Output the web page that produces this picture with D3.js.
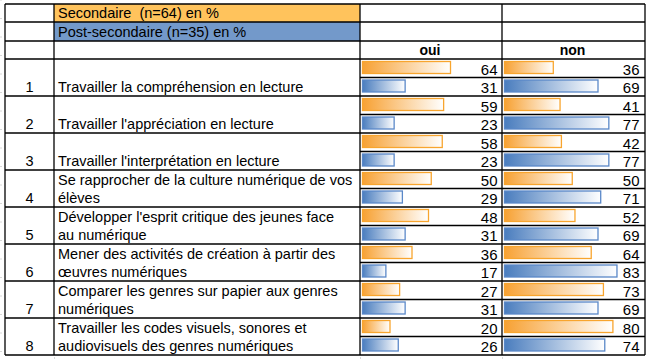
<!DOCTYPE html>
<html><head><meta charset="utf-8">
<script src="https://cdn.jsdelivr.net/npm/d3@7"></script>
<style>
html,body{margin:0;padding:0;background:#fff;}
svg{display:block;font-family:"Liberation Sans",Arial,sans-serif;}
</style></head>
<body>
<svg id="chart" width="650" height="361"></svg>
<script>
// ---- data ----
const itemNumbers = [1,2,3,4,5,6,7,8];
const itemLabels = [
  ["Travailler la compréhension en lecture"],
  ["Travailler l'appréciation en lecture"],
  ["Travailler l'interprétation en lecture"],
  ["Se rapprocher de la culture numérique de vos","élèves"],
  ["Développer l'esprit critique des jeunes face","au numérique"],
  ["Mener des activités de création à partir des","œuvres numériques"],
  ["Comparer les genres sur papier aux genres","numériques"],
  ["Travailler les codes visuels, sonores et","audiovisuels des genres numériques"]
];
const seriesNames = ["Secondaire  (n=64) en %","Post-secondaire (n=35) en %"];
const columnNames = ["oui","non"];
const ouiSecondaire = [64,59,58,50,48,36,27,20];
const ouiPostSecondaire = [31,23,23,29,31,17,31,26];
const nonSecondaire = [36,41,42,50,52,64,73,80];
const nonPostSecondaire = [69,77,77,71,69,83,69,74];

// ---- layout ----
const svg = d3.select("#chart");
const colX = [5, 54, 360, 502, 645];
const headerY = [4, 22, 41, 59];
const rowH = 37;
const rowTop = i => 59 + i * rowH;
const tableBottom = rowTop(8);
const fontSize = 14.5;
const orangeFill = "#FFC35C", blueFill = "#7399CA";
const orange = "#F7A133", blue = "#4A7DBE";
const orangeStroke = "#F8A52E", blueStroke = "#5A88C8";

const defs = svg.append("defs");
function grad(id, c) {
  const g = defs.append("linearGradient").attr("id", id).attr("x1","0%").attr("x2","100%").attr("y1","0").attr("y2","0");
  g.append("stop").attr("offset","0%").attr("stop-color", c);
  g.append("stop").attr("offset","100%").attr("stop-color", "#fff");
}
grad("gO", orange);
grad("gB", blue);

// faint spreadsheet grid outside the table
const faint = svg.append("g").attr("stroke","#d8d8d8").attr("stroke-width",1).attr("stroke-dasharray","2,3");
[colX[1], colX[2], colX[3]].forEach(x => faint.append("line").attr("x1",x+0.5).attr("x2",x+0.5).attr("y1",tableBottom+2).attr("y2",361));
d3.range(0, 361, 18.5).forEach(y => faint.append("line").attr("x1",0).attr("x2",3).attr("y1",y).attr("y2",y));

// header fills
svg.append("rect").attr("x",colX[1]).attr("y",headerY[0]).attr("width",colX[2]-colX[1]).attr("height",headerY[1]-headerY[0]).attr("fill",orangeFill);
svg.append("rect").attr("x",colX[1]).attr("y",headerY[1]).attr("width",colX[2]-colX[1]).attr("height",headerY[2]-headerY[1]).attr("fill",blueFill);

svg.selectAll("text.series").data(seriesNames).join("text")
  .attr("class","series")
  .attr("x", colX[1] + 4)
  .attr("y", (d,i) => headerY[i+1] - 4)
  .attr("font-size", fontSize)
  .attr("fill","#000")
  .attr("xml:space","preserve")
  .style("white-space","pre")
  .text(d => d);

svg.selectAll("text.colhead").data(columnNames).join("text")
  .attr("class","colhead")
  .attr("x", (d,i) => (colX[2+i] + colX[3+i]) / 2 - 1)
  .attr("y", headerY[3] - 4)
  .attr("text-anchor","middle")
  .attr("font-weight","bold")
  .attr("font-size", fontSize - 0.5)
  .text(d => d);

// scales for data bars
const xOui = d3.scaleLinear().domain([0,100]).range([0,137.5]);
const xNon = d3.scaleLinear().domain([0,100]).range([0,135.5]);
const barH = 12, barOff = 2.5;

const cols = [
  {x0: colX[2], scale: xOui, sec: ouiSecondaire, post: ouiPostSecondaire},
  {x0: colX[3], scale: xNon, sec: nonSecondaire, post: nonPostSecondaire}
];

const rows = svg.append("g");
itemLabels.forEach((lab, i) => {
  const top = rowTop(i);
  const half = rowH / 2;
  // number
  rows.append("text").attr("x", (colX[0]+colX[1])/2).attr("y", top + rowH - 4)
    .attr("text-anchor","middle").attr("font-size", fontSize).text(itemNumbers[i]);
  // label
  lab.forEach((line, j) => {
    const y = lab.length === 1 ? top + rowH - 4 : top + half * (j+1) - 4;
    rows.append("text").attr("x", colX[1] + 4).attr("y", y).attr("font-size", fontSize).text(line);
  });
  cols.forEach(c => {
    [[c.sec[i], "url(#gO)", orangeStroke, 0], [c.post[i], "url(#gB)", blueStroke, 1]].forEach(([v, fill, stroke, k]) => {
      const sy = top + k * half;
      rows.append("rect")
        .attr("x", c.x0 + 2.5).attr("y", sy + barOff)
        .attr("width", c.scale(v)).attr("height", barH)
        .attr("fill", fill).attr("stroke", stroke).attr("stroke-width", 1.3);
      rows.append("text").attr("x", c.x0 + 137.5).attr("y", sy + half - 3)
        .attr("text-anchor","end").attr("font-size", fontSize + 0.5).text(v);
    });
  });
});

// grid lines of the table
const grid = svg.append("g").attr("stroke","#000").attr("stroke-width",1.3).attr("fill","none");
const hLines = headerY.concat(d3.range(1, 9).map(i => rowTop(i)));
hLines.forEach(y => grid.append("line").attr("x1",colX[0]).attr("x2",colX[4]).attr("y1",y).attr("y2",y));
d3.range(8).forEach(i => grid.append("line").attr("x1",colX[2]).attr("x2",colX[4]).attr("y1",rowTop(i)+rowH/2).attr("y2",rowTop(i)+rowH/2));
colX.forEach(x => grid.append("line").attr("x1",x).attr("x2",x).attr("y1",headerY[0]).attr("y2",tableBottom));
</script>
</body></html>
